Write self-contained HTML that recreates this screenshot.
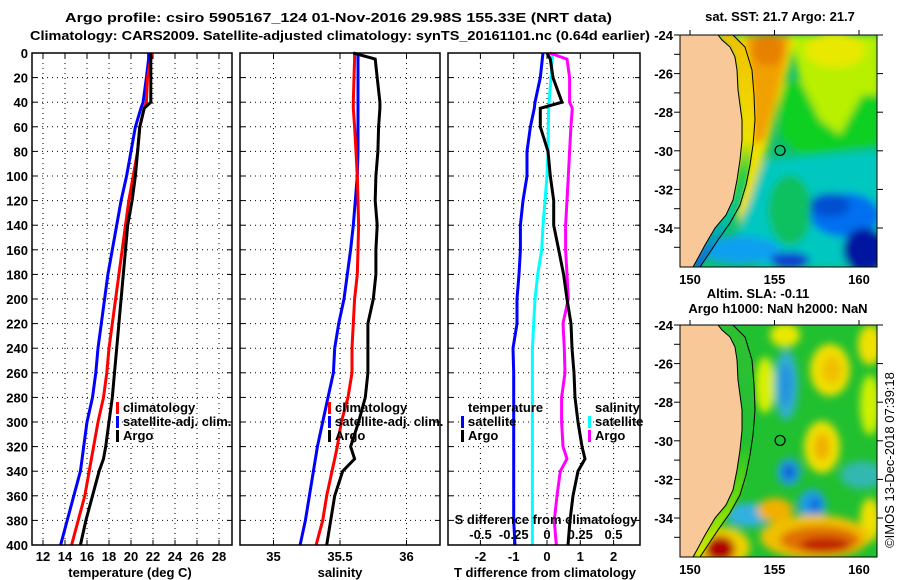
<!DOCTYPE html>
<html><head><meta charset="utf-8">
<style>
html,body{margin:0;padding:0;background:#fff;}
svg{display:block;font-family:"Liberation Sans",Arial,sans-serif;}
.b{font-weight:bold;font-size:13px;}
</style></head>
<body>
<svg id="root" width="900" height="580" viewBox="0 0 900 580" xmlns="http://www.w3.org/2000/svg">
<defs>
  <clipPath id="cm1"><rect x="680" y="35" width="197" height="232"/></clipPath>
  <clipPath id="cm2"><rect x="680" y="325" width="197" height="232"/></clipPath>
  <filter id="bl" x="-30%" y="-30%" width="160%" height="160%"><feGaussianBlur stdDeviation="4"/></filter>
  <filter id="bl2" x="-30%" y="-30%" width="160%" height="160%"><feGaussianBlur stdDeviation="1.5"/></filter>
  <linearGradient id="strip1" x1="0" y1="0" x2="0" y2="1">
    <stop offset="0" stop-color="#f0c000"/><stop offset="0.45" stop-color="#f0e000"/>
    <stop offset="0.6" stop-color="#30d040"/><stop offset="0.8" stop-color="#00c0a0"/><stop offset="1" stop-color="#1060e0"/>
  </linearGradient>
  <linearGradient id="strip2" x1="0" y1="0" x2="0" y2="1">
    <stop offset="0" stop-color="#30c030"/><stop offset="0.5" stop-color="#20c030"/>
    <stop offset="0.8" stop-color="#80e000"/><stop offset="1" stop-color="#d0e800"/>
  </linearGradient>
</defs>
<g>
<text x="65" y="22" textLength="547" lengthAdjust="spacingAndGlyphs" class="b" font-size="14">Argo profile: csiro 5905167_124 01-Nov-2016 29.98S 155.33E (NRT data)</text>
<text x="30" y="40" textLength="620" lengthAdjust="spacingAndGlyphs" class="b" font-size="14">Climatology: CARS2009. Satellite-adjusted climatology: synTS_20161101.nc (0.64d earlier)</text>
</g>
<g id="charts"></g>
<g id="maps"></g>
</svg>
<script>
// ---------- data ----------
const depths = [0,5,20,40,45,60,80,100,120,140,160,180,200,220,240,260,280,300,320,330,340,360,380,400];
const tempArgo = [21.8,21.8,21.8,21.8,21.2,20.8,20.6,20.4,20.1,19.7,19.5,19.3,19.1,18.9,18.7,18.5,18.3,18.0,17.7,17.5,17.1,16.5,15.9,15.4];
const tempClim = [21.9,21.8,21.5,21.4,21.2,20.8,20.6,20.2,19.8,19.5,19.2,18.9,18.6,18.3,18.0,17.8,17.5,17.0,16.6,16.4,16.2,15.8,15.2,14.6];
const tempSat  = [21.6,21.6,21.4,21.1,20.9,20.4,20.0,19.6,19.1,18.7,18.3,17.9,17.6,17.3,17.0,16.8,16.5,16.0,15.7,15.55,15.4,14.8,14.2,13.6];
const salArgo = [35.60,35.765,35.78,35.80,35.80,35.79,35.785,35.77,35.765,35.78,35.77,35.77,35.75,35.71,35.71,35.71,35.69,35.64,35.58,35.61,35.52,35.46,35.43,35.40];
const salClim = [35.61,35.61,35.605,35.60,35.60,35.61,35.62,35.63,35.635,35.64,35.635,35.63,35.61,35.60,35.59,35.59,35.56,35.51,35.48,35.46,35.44,35.40,35.37,35.32];
const salSat  = [35.635,35.635,35.635,35.635,35.635,35.635,35.635,35.63,35.615,35.60,35.58,35.555,35.53,35.49,35.46,35.45,35.41,35.37,35.33,35.315,35.30,35.27,35.24,35.20];
const dTSat  = [-0.12,-0.14,-0.2,-0.36,-0.38,-0.5,-0.6,-0.6,-0.72,-0.8,-0.8,-0.84,-0.9,-0.9,-1.02,-1.0,-1.0,-1.0,-1.0,-1.0,-1.0,-1.0,-1.0,-0.96];
const dTArgo = [0.0,0.1,0.18,0.45,-0.2,-0.2,0.03,0.1,0.2,0.2,0.35,0.5,0.6,0.72,0.75,0.81,0.84,0.93,1.05,1.14,0.93,0.78,0.69,0.63];
const dSSat  = [0.04,0.04,0.03,0.015,0.013,0.01,0.008,0,-0.015,-0.03,-0.04,-0.07,-0.09,-0.1,-0.11,-0.11,-0.11,-0.11,-0.11,-0.11,-0.11,-0.11,-0.11,-0.11];
const dSArgo = [0.02,0.15,0.17,0.17,0.19,0.18,0.17,0.16,0.15,0.14,0.14,0.15,0.16,0.12,0.13,0.135,0.11,0.11,0.12,0.15,0.10,0.075,0.055,0.07];
const depthTicks = [0,20,40,60,80,100,120,140,160,180,200,220,240,260,280,300,320,340,360,380,400];
const tempTicks = [12,14,16,18,20,22,24,26,28];
const salTicks = [35,35.5,36];
const salTickLabels = ["35","35.5","36"];
const dTTicks = [-2,-1,0,1,2];
const dSTicks = [-0.5,-0.25,0,0.25,0.5];
const dSTickLabels = ["-0.5","-0.25","0","0.25","0.5"];
const latTicks = [-24,-26,-28,-30,-32,-34];
const lonTicks = [150,155,160];

// ---------- helpers ----------
const NS="http://www.w3.org/2000/svg";
function mk(tag, attrs, parent){const e=document.createElementNS(NS,tag);for(const k in attrs)e.setAttribute(k,attrs[k]);parent.appendChild(e);return e;}
const TOP=53, BOT=545;
const yD = d => TOP + d*(BOT-TOP)/400;
const xT = t => 43 + (t-12)*11;
const xS = s => 340 + (s-35.5)*133;
const xDT = v => 547 + v*33.3;
const xDS = v => 547 + v*133;
const charts=document.getElementById('charts');

function panel(name,x0,x1){
  const g=mk('g',{},charts);
  
  
  depthTicks.forEach(d=>{
    if(d>0&&d<400){const l=mk('line',{x1:x0,x2:x1,y1:yD(d),y2:yD(d),stroke:'#000','stroke-width':1,'stroke-dasharray':'1,4'},g);
    }
    mk('line',{x1:x0,x2:x0+5,y1:yD(d),y2:yD(d),stroke:'#000'},g);
    mk('line',{x1:x1-5,x2:x1,y1:yD(d),y2:yD(d),stroke:'#000'},g);
  });
  return g;
}
function vgrid(g,xs){xs.forEach(x=>{const l=mk('line',{x1:x,x2:x,y1:TOP,y2:BOT,stroke:'#000','stroke-dasharray':'1,4'},g);
  
  mk('line',{x1:x,x2:x,y1:BOT-5,y2:BOT,stroke:'#000'},g);mk('line',{x1:x,x2:x,y1:TOP,y2:TOP+5,stroke:'#000'},g);});}
function frame(g,x0,x1){const r=mk('rect',{x:x0,y:TOP,width:x1-x0,height:BOT-TOP,fill:'none',stroke:'#000','stroke-width':1.5},g);
  }
function series(g,name,vals,xf,color){
  const pts=vals.map((v,i)=>xf(v).toFixed(1)+','+yD(depths[i]).toFixed(1)).join(' ');
  const p=mk('polyline',{points:pts,fill:'none',stroke:color,'stroke-width':3,'stroke-linejoin':'miter'},g);
  
  
}
function txt(g,name,x,y,s,extra){const t=mk('text',Object.assign({x:x,y:y,class:'b'},extra||{}),g);t.textContent=s;
  return t;}
function legend(g,name,x,y,color,label){
  const lg=mk('g',{},g);
  
  
  if(color) mk('rect',{x:x,y:y-10,width:3,height:12,fill:color},lg);
  const t=mk('text',{x:x+7,y:y,class:'b'},lg);t.textContent=label;
}

const ylab=mk('g',{},charts);


depthTicks.forEach(d=>{const t=mk('text',{x:28,y:yD(d)+5,'text-anchor':'end',class:'b'},ylab);t.textContent=d;});

let g1=panel('temperature-panel',32,232);
vgrid(g1,tempTicks.map(xT));
series(g1,'temp-satellite-line',tempSat,xT,'#0000ff');
series(g1,'temp-climatology-line',tempClim,xT,'#ff0000');
series(g1,'temp-argo-line',tempArgo,xT,'#000000');
frame(g1,32,232);
tempTicks.forEach(t=>txt(g1,'temp-tick-label',xT(t),561,String(t),{'text-anchor':'middle'}));
txt(g1,'temp-x-axis-title',130,577,'temperature (deg C)',{'text-anchor':'middle'});
legend(g1,'legend-climatology',116,412,'#ff0000','climatology');
legend(g1,'legend-satellite-adj',116,426,'#0000ff','satellite-adj. clim.');
legend(g1,'legend-argo',116,440,'#000000','Argo');

let g2=panel('salinity-panel',240,440);
vgrid(g2,salTicks.map(xS));
series(g2,'sal-satellite-line',salSat,xS,'#0000ff');
series(g2,'sal-climatology-line',salClim,xS,'#ff0000');
series(g2,'sal-argo-line',salArgo,xS,'#000000');
frame(g2,240,440);
salTicks.forEach((t,i)=>txt(g2,'sal-tick-label',xS(t),561,salTickLabels[i],{'text-anchor':'middle'}));
txt(g2,'sal-x-axis-title',340,577,'salinity',{'text-anchor':'middle'});
legend(g2,'legend-sal-climatology',328,412,'#ff0000','climatology');
legend(g2,'legend-sal-satellite-adj',328,426,'#0000ff','satellite-adj. clim.');
legend(g2,'legend-sal-argo',328,440,'#000000','Argo');

let g3=panel('difference-panel',448,640);
vgrid(g3,dTTicks.map(xDT));
series(g3,'dT-satellite-line',dTSat,xDT,'#0000ff');
series(g3,'dS-satellite-line',dSSat,xDS,'#00ffff');
series(g3,'dS-argo-line',dSArgo,xDS,'#ff00ff');
series(g3,'dT-argo-line',dTArgo,xDT,'#000000');
frame(g3,448,640);
dTTicks.forEach(t=>txt(g3,'dT-tick-label',xDT(t),561,String(t),{'text-anchor':'middle'}));
dSTicks.forEach((t,i)=>txt(g3,'dS-tick-label',xDS(t),539,dSTickLabels[i],{'text-anchor':'middle'}));
txt(g3,'dS-axis-title',546,524,'S difference from climatology',{'text-anchor':'middle'});
txt(g3,'dT-x-axis-title',545,577,'T difference from climatology',{'text-anchor':'middle'});
legend(g3,'legend-temperature-header',461,412,null,'temperature');
legend(g3,'legend-t-satellite',461,426,'#0000ff','satellite');
legend(g3,'legend-t-argo',461,440,'#000000','Argo');
legend(g3,'legend-salinity-header',588,412,null,'salinity');
legend(g3,'legend-s-satellite',588,426,'#00ffff','satellite');
legend(g3,'legend-s-argo',588,440,'#ff00ff','Argo');

// ---------- maps ----------
const maps=document.getElementById('maps');
const MX0=680,MX1=877;
const lonX = lo => 690 + (lo-150)*16.9;
const coast=[[718,0],[722,5],[730,12],[735,22],[737,35],[738,55],[740,70],[742,85],[742,105],[740,125],[737,145],[733,165],[726,180],[715,193],[705,210],[698,223],[693,232]];
const contour=[[733,0],[745,12],[752,35],[754,60],[755,85],[753,110],[750,130],[746,150],[740,170],[730,188],[718,205],[708,220],[700,232]];
function drawMap(name,y0,blobs,title){
  const g=mk('g',{},maps);
  
  
  const latY = la => y0 + (-24-la)*19.3;
  const inner=mk('g',{'clip-path':'url(#cm'+(y0<100?1:2)+')'},g);
  mk('rect',{x:MX0,y:y0,width:197,height:232,fill:blobs.base},inner);
  const bg=mk('g',{filter:'url(#bl)'},inner);
  blobs.shapes.forEach(s=>{
    if(s[0]==='e') mk('ellipse',{cx:s[1],cy:y0+s[2],rx:s[3],ry:s[4],fill:s[5]},bg);
    else mk('polygon',{points:s[1].map(p=>p[0]+','+(y0+p[1])).join(' '),fill:s[2]},bg);
  });
  const strip=coast.map(p=>p[0]+','+(y0+p[1])).concat(contour.slice().reverse().map(p=>p[0]+','+(y0+p[1]))).join(' ');
  mk('polygon',{points:strip,fill:blobs.strip,filter:'url(#bl2)'},inner);
  const land=[[MX0-5,0]].concat(coast).concat([[MX0-5,232]]).map(p=>p[0]+','+(y0+p[1])).join(' ');
  const l=mk('polygon',{points:land,fill:'#f8c898',stroke:'#000','stroke-width':1},inner);
  
  
  mk('polyline',{points:contour.map(p=>p[0]+','+(y0+p[1])).join(' '),fill:'none',stroke:'#000','stroke-width':1},inner);
  mk('circle',{cx:lonX(155.33),cy:latY(-29.98),r:5,fill:'none',stroke:'#000','stroke-width':1.2},g);
  mk('rect',{x:MX0,y:y0,width:197,height:232,fill:'none',stroke:'#000','stroke-width':1},g);
  latTicks.forEach(la=>{const y=latY(la);
    mk('line',{x1:MX0-6,x2:MX0,y1:y,y2:y,stroke:'#000'},g);mk('line',{x1:MX1,x2:MX1+6,y1:y,y2:y,stroke:'#000'},g);
    const t=mk('text',{x:MX0-7,y:y+5,'text-anchor':'end',class:'b'},g);t.textContent=la;});
  [-25,-27,-29,-31,-33,-35].forEach(la=>{const y=latY(la);mk('line',{x1:MX0-6,x2:MX0,y1:y,y2:y,stroke:'#000'},g);});
  lonTicks.forEach(lo=>{const x=lonX(lo);
    mk('line',{x1:x,x2:x,y1:y0-5,y2:y0,stroke:'#000'},g);
    const t=mk('text',{x:x,y:y0+232+17,'text-anchor':'middle',class:'b',"font-size":14},g);t.textContent=lo;});
  title.forEach((tt,i)=>{const t=mk('text',{x:tt[0],y:y0+tt[1],'text-anchor':'middle',class:'b'},g);t.textContent=tt[2];
    });
}
drawMap('sst-map',35,{base:'#10c070',strip:'url(#strip1)',shapes:[
  ['p',[[790,0],[880,0],[880,60],[862,60],[840,100],[820,85],[800,45]],'#b8f000'],
  ['e',835,15,30,18,'#e8e800'],
  ['p',[[780,50],[800,45],[820,85],[840,100],[862,60],[880,60],[880,110],[800,120],[780,100]],'#10d020'],
  ['p',[[735,0],[795,0],[790,30],[778,70],[768,110],[758,140],[748,170],[738,190],[732,150],[742,80]],'#f0e000'],
  ['p',[[745,0],[790,0],[785,30],[775,70],[765,105],[752,110],[750,60]],'#f0a000'],
  ['e',768,15,16,16,'#e88000'],
  ['p',[[765,125],[880,115],[880,232],[760,232],[735,205]],'#00c8c0'],
  ['e',790,175,22,35,'#10c060'],
  ['e',845,180,35,22,'#0070f0'],
  ['e',830,170,20,12,'#0050d0'],
  ['e',865,215,22,22,'#0018a0'],
  ['e',740,215,40,14,'#10a0f0'],
  ['e',790,225,20,8,'#1040d0']
]},[[780,-14,'sat. SST: 21.7 Argo: 21.7']]);
drawMap('sla-map',325,{base:'#20c030',strip:'url(#strip2)',shapes:[
  ['e',785,10,15,12,'#e8e800'],
  ['e',830,45,20,26,'#f0e000'],
  ['e',832,45,10,14,'#f0c000'],
  ['e',870,20,12,20,'#f0e000'],
  ['e',765,60,10,28,'#d8f000'],
  ['e',786,60,12,35,'#30b0d0'],
  ['e',786,60,6,22,'#2090e0'],
  ['e',822,122,18,26,'#f0e000'],
  ['e',822,122,8,14,'#f0b000'],
  ['e',789,147,12,14,'#20a0e0'],
  ['e',789,147,6,8,'#1060d0'],
  ['e',812,180,14,16,'#20a0e0'],
  ['e',815,180,6,8,'#1070e0'],
  ['e',862,150,22,14,'#30b8b0'],
  ['e',748,190,22,12,'#30b0e0'],
  ['e',870,80,10,30,'#d0f000'],
  ['e',870,195,10,22,'#f0e000'],
  ['e',815,212,55,22,'#f0c000'],
  ['e',820,215,40,14,'#e07000'],
  ['e',825,220,25,8,'#c02000'],
  ['e',775,185,18,12,'#f0b000'],
  ['e',722,222,28,20,'#f0d000'],
  ['e',720,224,15,13,'#b00000']
]},[[758,-27,'Altim. SLA: -0.11'],[778,-12,'Argo h1000: NaN h2000: NaN']]);
const cr=mk('text',{x:894,y:460,'text-anchor':'middle','font-size':13,transform:'rotate(-90 894 460)'},maps);
cr.textContent='©IMOS 13-Dec-2018 07:39:18';


</script>
</body></html>
